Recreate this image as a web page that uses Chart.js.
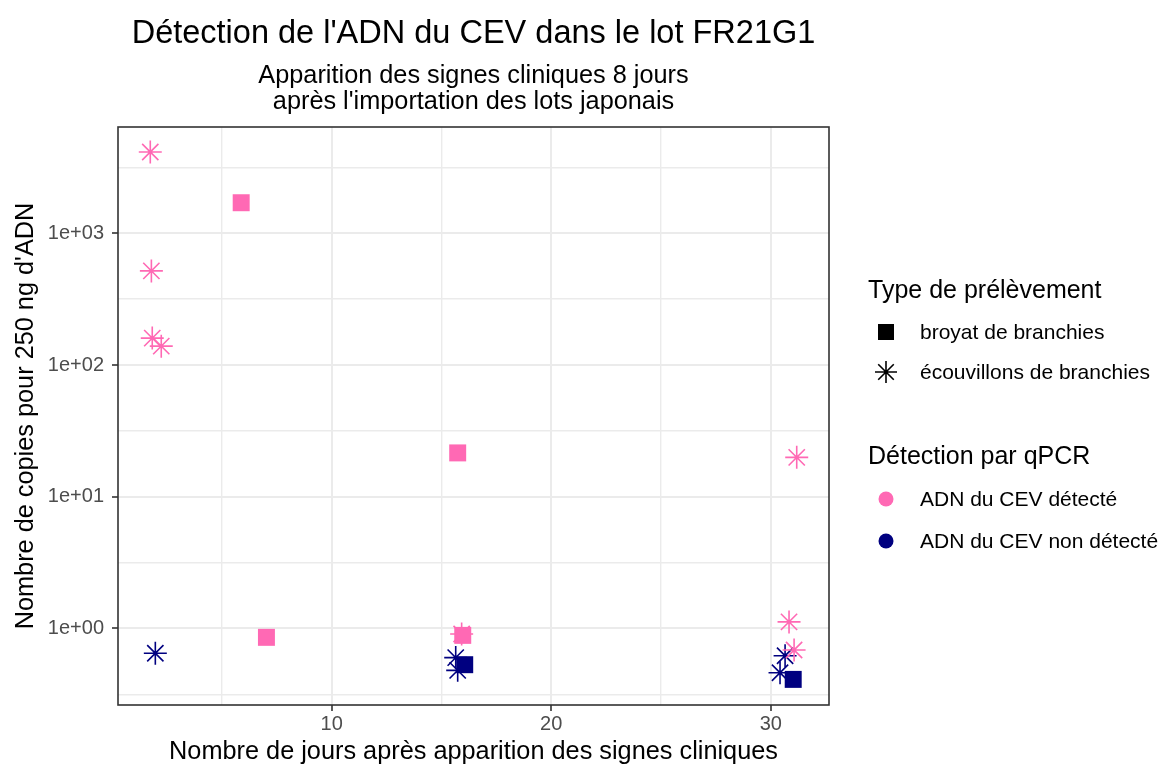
<!DOCTYPE html>
<html>
<head>
<meta charset="utf-8">
<script src="https://cdn.jsdelivr.net/npm/chart.js@4/dist/chart.umd.min.js"></script>
<style>
  html, body { margin: 0; padding: 0; background: #fff; }
  canvas { display: block; }
</style>
</head>
<body>
<canvas id="chart" width="1161" height="769"></canvas>
<script>
// données (jours, copies / 250 ng)
const detBroyatX = [5.88, 15.74, 7.03, 15.97];
const detBroyatY = [1706, 21.5, 0.855, 0.885];
const detEcouvX = [1.74, 1.79, 1.83, 2.24, 31.18, 30.83, 31.06, 15.92];
const detEcouvY = [4140, 518, 160, 139, 19.9, 1.12, 0.685, 0.906];
const nonBroyatX = [16.06, 31.02];
const nonBroyatY = [0.53, 0.41];
const nonEcouvX = [1.97, 15.65, 15.74, 30.65, 30.42];
const nonEcouvY = [0.647, 0.60, 0.48, 0.62, 0.46];

const xMajor = [10, 20, 30];
const xMinor = [5, 15, 25];
const yMajor = [1, 10, 100, 1000];
const yMajorLabels = ['1e+00', '1e+01', '1e+02', '1e+03'];

const PINK = '#ff69b4';
const NAVY = '#000080';
const FONT = '"Liberation Sans", Arial, sans-serif';

const title = "Détection de l'ADN du CEV dans le lot FR21G1";
const subtitle = ["Apparition des signes cliniques 8 jours", "après l'importation des lots japonais"];
const xTitle = 'Nombre de jours après apparition des signes cliniques';
const yTitle = "Nombre de copies pour 250 ng d'ADN";

function pts(xs, ys) { return xs.map((x, i) => ({ x, y: ys[i] })); }

// grille mineure au milieu des décades
const yMinor = [Math.sqrt(0.1), ...yMajor.map(v => v * Math.sqrt(10))];

function isMajorX(v) { return xMajor.includes(v); }
function isMajorY(v) { return yMajor.some(m => Math.abs(m - v) < 1e-9); }

const decor = {
	id: 'decor',
	afterDraw(chart) {
		const { ctx, chartArea: a } = chart;
		const cx = (a.left + a.right) / 2;
		ctx.save();
		// cadre du panneau
		ctx.strokeStyle = '#333333';
		ctx.lineWidth = 1.6;
		ctx.strokeRect(a.left, a.top, a.right - a.left, a.bottom - a.top);

		ctx.fillStyle = '#000';
		ctx.textAlign = 'center';
		ctx.textBaseline = 'alphabetic';
		ctx.font = `32.5px ${FONT}`;
		ctx.fillText(title, cx, 43);
		ctx.font = `25.3px ${FONT}`;
		ctx.fillText(subtitle[0], cx, 83);
		ctx.fillText(subtitle[1], cx, 109);
		ctx.fillText(xTitle, cx, 759);
		ctx.save();
		ctx.translate(33, (a.top + a.bottom) / 2);
		ctx.rotate(-Math.PI / 2);
		ctx.fillText(yTitle, 0, 0);
		ctx.restore();

		// légende
		ctx.textAlign = 'left';
		ctx.font = `25px ${FONT}`;
		ctx.fillText('Type de prélèvement', 868, 298);
		ctx.fillText('Détection par qPCR', 868, 464);
		ctx.font = `21px ${FONT}`;
		ctx.textBaseline = 'middle';
		const items = [
			['broyat de branchies', 332, 'rect', '#000'],
			['écouvillons de branchies', 372, 'star', '#000'],
			['ADN du CEV détecté', 499, 'circle', PINK],
			['ADN du CEV non détecté', 541, 'circle', NAVY]
		];
		items.forEach(([txt, y, shape, col]) => {
			ctx.fillStyle = col;
			ctx.strokeStyle = col;
			if (shape === 'rect') {
				ctx.fillRect(878, y - 8, 16, 16);
			} else if (shape === 'star') {
				ctx.lineWidth = 1.6;
				ctx.beginPath();
				for (let k = 0; k < 4; k++) {
					const ang = k * Math.PI / 4;
					const dx = Math.cos(ang) * 11, dy = Math.sin(ang) * 11;
					ctx.moveTo(886 - dx, y - dy);
					ctx.lineTo(886 + dx, y + dy);
				}
				ctx.stroke();
			} else {
				ctx.beginPath();
				ctx.arc(886, y, 7.5, 0, Math.PI * 2);
				ctx.fill();
			}
			ctx.fillStyle = '#000';
			ctx.fillText(txt, 920, y + 1);
		});
		ctx.restore();
	}
};

Chart.defaults.font.family = FONT;

new Chart(document.getElementById('chart'), {
	type: 'scatter',
	data: {
		datasets: [
			{ label: 'broyat détecté', data: pts(detBroyatX, detBroyatY), pointStyle: 'rect', pointRadius: 12, backgroundColor: PINK, borderColor: PINK, borderWidth: 0 },
			{ label: 'broyat non détecté', data: pts(nonBroyatX, nonBroyatY), pointStyle: 'rect', pointRadius: 12, backgroundColor: NAVY, borderColor: NAVY, borderWidth: 0 },
			{ label: 'écouvillons détecté', data: pts(detEcouvX, detEcouvY), pointStyle: 'star', pointRadius: 11.5, backgroundColor: PINK, borderColor: PINK, borderWidth: 1.6 },
			{ label: 'écouvillons non détecté', data: pts(nonEcouvX, nonEcouvY), pointStyle: 'star', pointRadius: 11.5, backgroundColor: NAVY, borderColor: NAVY, borderWidth: 1.6 }
		]
	},
	options: {
		responsive: false,
		animation: false,
		devicePixelRatio: 1,
		layout: { padding: { top: 127, right: 332, left: 0, bottom: 0 } },
		plugins: { legend: { display: false }, tooltip: { enabled: false } },
		elements: { point: { hoverRadius: 12 } },
		scales: {
			x: {
				type: 'linear',
				min: 0.27,
				max: 32.65,
				afterFit(s) { s.height = 64; },
				afterBuildTicks(s) { s.ticks = [...xMinor, ...xMajor].sort((a, b) => a - b).map(v => ({ value: v })); },
				ticks: {
					color: '#4d4d4d',
					font: { size: 20 },
					padding: 1,
					maxRotation: 0,
					autoSkip: false,
					callback: v => isMajorX(v) ? String(v) : ''
				},
				grid: {
					color: '#ebebeb',
					lineWidth: c => isMajorX(c.tick.value) ? 2 : 1.4,
					tickColor: c => isMajorX(c.tick.value) ? '#333333' : 'rgba(0,0,0,0)',
					tickLength: 6,
					tickWidth: 1.6
				},
				border: { display: false }
			},
			y: {
				type: 'logarithmic',
				min: 0.262,
				max: 6412,
				afterFit(s) { s.width = 118; },
				afterBuildTicks(s) { s.ticks = [...yMinor, ...yMajor].sort((a, b) => a - b).map(v => ({ value: v })); },
				ticks: {
					color: '#4d4d4d',
					font: { size: 20 },
					padding: 8,
					autoSkip: false,
					callback: v => {
						const i = yMajor.findIndex(m => Math.abs(m - v) < 1e-9);
						return i >= 0 ? yMajorLabels[i] : '';
					}
				},
				grid: {
					color: '#ebebeb',
					lineWidth: c => isMajorY(c.tick.value) ? 2 : 1.4,
					tickColor: c => isMajorY(c.tick.value) ? '#333333' : 'rgba(0,0,0,0)',
					tickLength: 6,
					tickWidth: 1.6
				},
				border: { display: false }
			}
		}
	},
	plugins: [decor]
});
</script>
</body>
</html>
